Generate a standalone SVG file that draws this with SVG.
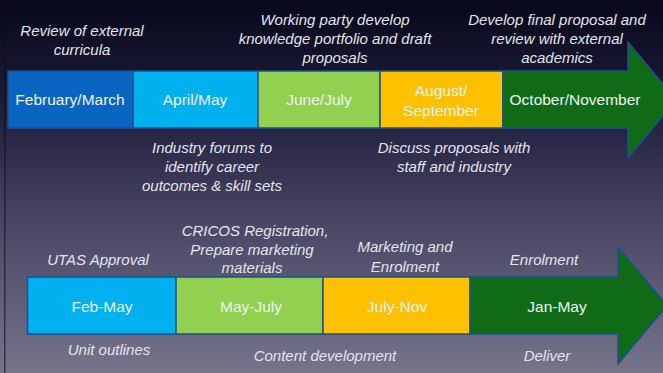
<svg xmlns="http://www.w3.org/2000/svg" width="663" height="373" viewBox="0 0 663 373">
<defs>
<linearGradient id="bg" x1="0" y1="0" x2="0" y2="1">
<stop offset="0" stop-color="#08081a"/>
<stop offset="0.3" stop-color="#1f1e3c"/>
<stop offset="0.6" stop-color="#4a4765"/>
<stop offset="1" stop-color="#76738b"/>
</linearGradient>
<style>
.box{stroke:#1d4f8f;stroke-width:1.5}
.bt{font-family:"Liberation Sans",Arial,sans-serif;font-size:15.5px;fill:#eef4f6;text-anchor:middle}
.lb{font-family:"Liberation Sans",Arial,sans-serif;font-size:15px;font-style:italic;fill:#e4e4ec;text-anchor:middle}
</style>
</defs>
<rect x="0" y="0" width="663" height="373" fill="url(#bg)"/>
<rect x="4" y="0" width="1.5" height="373" fill="#0e0e1c" opacity="0.6"/>

<g id="connectors"/>

<g id="top-labels">
<text class="lb" x="82" y="36">Review of external</text>
<text class="lb" x="82" y="55">curricula</text>
<text class="lb" x="335" y="25">Working party develop</text>
<text class="lb" x="335" y="44">knowledge portfolio and draft</text>
<text class="lb" x="335" y="63">proposals</text>
<text class="lb" x="557" y="25">Develop final proposal and</text>
<text class="lb" x="557" y="44">review with external</text>
<text class="lb" x="557" y="63">academics</text>
<text class="lb" x="212" y="153">Industry forums to</text>
<text class="lb" x="212" y="172">identify career</text>
<text class="lb" x="212" y="191">outcomes &amp; skill sets</text>
<text class="lb" x="454" y="153">Discuss proposals with</text>
<text class="lb" x="454" y="172">staff and industry</text>
</g>

<g id="n-febmarch">
<rect class="box" x="8" y="71" width="125" height="57" fill="#0a64c2"/>
<text class="bt" x="70" y="105">February/March</text>
</g>
<g id="n-aprilmay">
<rect class="box" x="133" y="71" width="125" height="57" fill="#00b0ef"/>
<text class="bt" x="195" y="105">April/May</text>
</g>
<g id="n-junejuly">
<rect class="box" x="258" y="71" width="122" height="57" fill="#92d050"/>
<text class="bt" x="319" y="105">June/July</text>
</g>
<g id="n-augsept">
<rect class="box" x="380" y="71" width="123" height="57" fill="#ffc000"/>
<text class="bt" x="441" y="96">August/</text>
<text class="bt" x="441" y="116">September</text>
</g>
<g id="n-octnov">
<polygon class="box" points="503,71 628,71 628,42 676,100 628,158 628,128 503,128" fill="#106b16"/>
<text class="bt" x="575" y="105">October/November</text>
</g>

<g id="bottom-labels">
<text class="lb" x="98" y="265">UTAS Approval</text>
<text class="lb" x="255" y="236">CRICOS Registration,</text>
<text class="lb" x="252" y="255">Prepare marketing</text>
<text class="lb" x="252" y="273">materials</text>
<text class="lb" x="405" y="252">Marketing and</text>
<text class="lb" x="405" y="272">Enrolment</text>
<text class="lb" x="544" y="265">Enrolment</text>
<text class="lb" x="109" y="355">Unit outlines</text>
<text class="lb" x="325" y="361">Content development</text>
<text class="lb" x="547" y="361">Deliver</text>
</g>

<g id="n-febmay">
<rect class="box" x="27.5" y="277" width="148.5" height="57" fill="#00b0ef"/>
<text class="bt" x="102" y="312">Feb-May</text>
</g>
<g id="n-mayjuly">
<rect class="box" x="176" y="277" width="147" height="57" fill="#92d050"/>
<text class="bt" x="251" y="312">May-July</text>
</g>
<g id="n-julynov">
<rect class="box" x="323" y="277" width="147" height="57" fill="#ffc000"/>
<text class="bt" x="397" y="312">July-Nov</text>
</g>
<g id="n-janmay">
<polygon class="box" points="470,277 618,277 618,247 667,305.5 618,364 618,334 470,334" fill="#106b16"/>
<text class="bt" x="557" y="312">Jan-May</text>
</g>
</svg>
